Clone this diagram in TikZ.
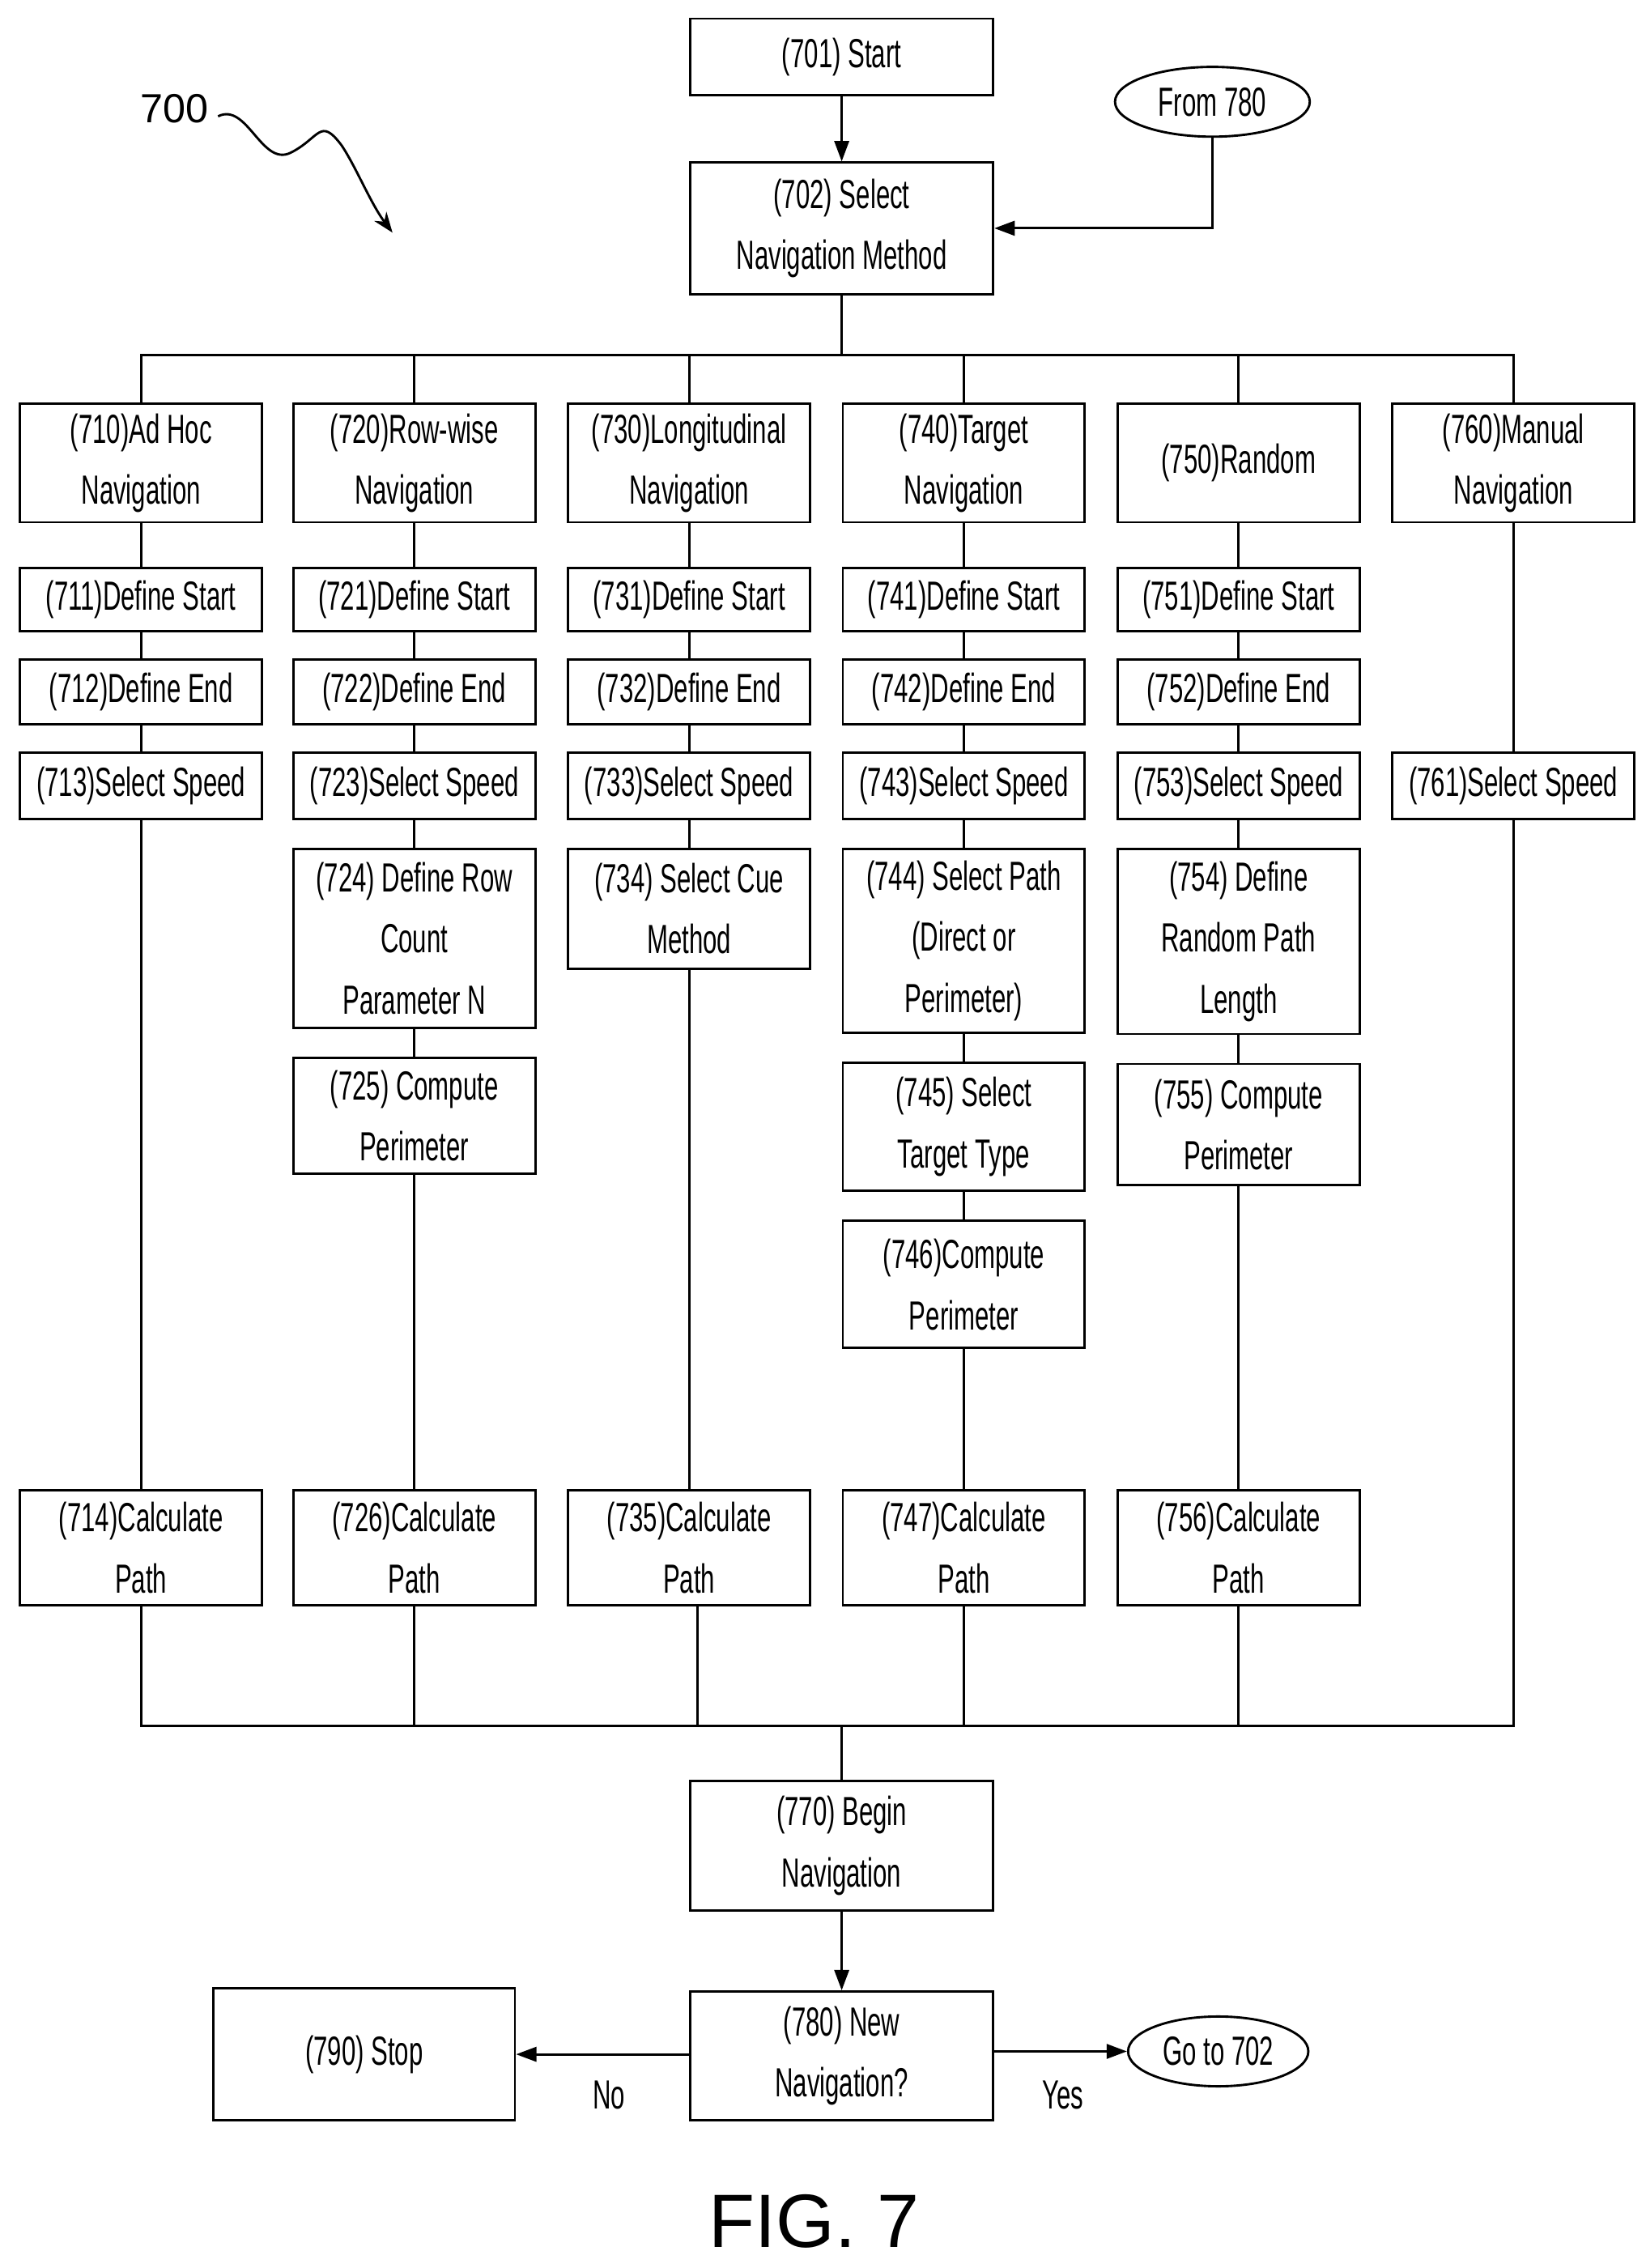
\documentclass[tikz,border=0pt]{standalone}
\usepackage{fontspec}
\setmainfont{Liberation Sans}[FakeStretch=0.62]
\newfontfamily\widefont{Liberation Sans}
\usetikzlibrary{shapes.geometric,arrows.meta,decorations.pathmorphing}
\begin{document}
\begin{tikzpicture}[x=0.5pt,y=-0.5pt,
  box/.style={draw,line width=0.8pt,inner sep=0pt,align=center,font=\fontsize{14}{21}\selectfont},
  oval/.style={draw,ellipse,line width=0.8pt,inner sep=0pt,font=\fontsize{14}{21}\selectfont},
  ln/.style={line width=0.8pt},
  arr/.style={line width=0.8pt,-{Triangle[length=7pt,width=5pt]}},
  lbl/.style={font=\fontsize{14}{21}\selectfont}]
\useasboundingbox (0,0) rectangle (1132,1560);
\newcommand\bx[6]{\node[box,minimum width={(#4-#2)*0.5pt-0.8pt},minimum height={(#5-#3)*0.5pt-0.8pt}] (#1) at ({(#2+#4)/2},{(#3+#5)/2}) {#6};}
\bx{n701}{474}{12}{684}{66}{(701) Start}
\bx{n702}{474}{111}{684}{203}{(702) Select\\Navigation Method}
\node[oval,minimum width=67pt,minimum height=24pt] (f780) at (834,70) {From 780};
\draw[arr] (n701) -- (n702);
\draw[arr] (f780.south) |- (n702.east);
% row boxes
\foreach \n/\c/\t in {710/97/{(710)Ad Hoc\\Navigation},720/285/{(720)Row-wise\\Navigation},730/474/{(730)Longitudinal\\Navigation},740/663/{(740)Target\\Navigation},750/852/{(750)Random},760/1041/{(760)Manual\\Navigation}}{
  \node[box,minimum width=83.2pt,minimum height=40.7pt] (n\n) at (\c,318.5) {\t};
}
\coordinate (bl) at (97,244); \coordinate (br) at (1041,244);
\draw[ln] (n702.south) -- (579,244);
\draw[ln] (n710.north) |- (bl) -- (br) -- (n760.north);
\foreach \n in {720,730,740,750}{\draw[ln] (n\n.north) -- (n\n.north |- bl);}
% column steps
\foreach \a/\c in {1/97,2/285,3/474,4/663,5/852}{
  \node[box,minimum width=83.2pt,minimum height=21.7pt] (n7\a1) at (\c,412.5) {(7\a1)Define Start};
  \node[box,minimum width=83.2pt,minimum height=22.2pt] (n7\a2) at (\c,476) {(7\a2)Define End};
  \node[box,minimum width=83.2pt,minimum height=22.7pt] (n7\a3) at (\c,540.5) {(7\a3)Select Speed};
  \draw[ln] (n7\a0) -- (n7\a1); \draw[ln] (n7\a1) -- (n7\a2); \draw[ln] (n7\a2) -- (n7\a3);
}
\node[box,minimum width=83.2pt,minimum height=22.7pt] (n761) at (1041,540.5) {(761)Select Speed};
\draw[ln] (n760) -- (n761);
\bx{n724}{201}{583}{369}{708}{(724) Define Row\\Count\\Parameter N}
\bx{n725}{201}{727}{369}{808}{(725) Compute\\Perimeter}
\bx{n734}{390}{583}{558}{667}{(734) Select Cue\\Method}
\bx{n744}{579}{583}{747}{711}{(744) Select Path\\(Direct or\\Perimeter)}
\bx{n745}{579}{730}{747}{820}{(745) Select\\Target Type}
\bx{n746}{579}{839}{747}{928}{(746)Compute\\Perimeter}
\bx{n754}{768}{583}{936}{712}{(754) Define\\Random Path\\Length}
\bx{n755}{768}{731}{936}{816}{(755) Compute\\Perimeter}
\bx{n714}{13}{1024}{181}{1105}{(714)Calculate\\Path}
\bx{n726}{201}{1024}{369}{1105}{(726)Calculate\\Path}
\bx{n735}{390}{1024}{558}{1105}{(735)Calculate\\Path}
\bx{n747}{579}{1024}{747}{1105}{(747)Calculate\\Path}
\bx{n756}{768}{1024}{936}{1105}{(756)Calculate\\Path}
\draw[ln] (n713) -- (n714);
\draw[ln] (n723) -- (n724); \draw[ln] (n724) -- (n725); \draw[ln] (n725) -- (n726);
\draw[ln] (n733) -- (n734); \draw[ln] (n734) -- (n735);
\draw[ln] (n743) -- (n744); \draw[ln] (n744) -- (n745); \draw[ln] (n745) -- (n746); \draw[ln] (n746) -- (n747);
\draw[ln] (n753) -- (n754); \draw[ln] (n754) -- (n755); \draw[ln] (n755) -- (n756);
\coordinate (ml) at (97,1187); \coordinate (mr) at (1041,1187);
\draw[ln] (n714.south) |- (ml) -- (mr) -- (n761.south);
\draw[ln] (n726.south) -- (285,1187);
\draw[ln] (480,1105) -- (480,1187);
\draw[ln] (n747.south) -- (663,1187);
\draw[ln] (n756.south) -- (852,1187);
\bx{n770}{474}{1224}{684}{1315}{(770) Begin\\Navigation}
\draw[ln] (579,1187) -- (n770.north);
\bx{n780}{474}{1369}{684}{1459}{(780) New\\Navigation?}
\bx{n790}{146}{1367}{355}{1459}{(790) Stop}
\node[oval,minimum width=62pt,minimum height=24pt] (g702) at (838,1411) {Go to 702};
\draw[arr] (n770) -- (n780);
\draw[arr] (474,1413) -- (n790.east |- 0,1413);
\draw[arr] (684,1411) -- (g702.west);
\node[lbl] (no) at (419,1441) {No};
\node[lbl] (yes) at (731,1441) {Yes};
\node[font=\widefont\fontsize{26}{26}\selectfont] (fig) at (560,1528) {FIG. 7};
\node[font=\widefont\fontsize{14}{14}\selectfont] (l700) at (120,75) {700};
\coordinate (s0) at (150,80);
\coordinate (s1) at (270,160);
\draw[line width=0.8pt,-{Stealth[length=7pt]}] (s0) .. controls (170,70) and (180,115) .. (200,105) .. controls (220,95) and (220,80) .. (235,100) .. controls (245,115) and (255,140) .. (s1);
\end{tikzpicture}
\end{document}
